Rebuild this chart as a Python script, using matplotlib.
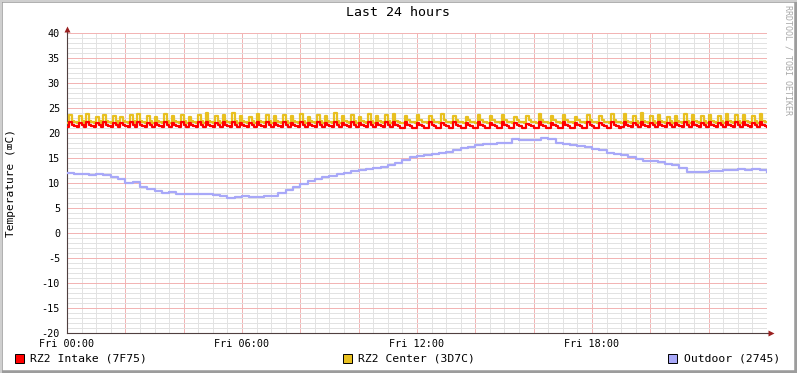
import matplotlib
matplotlib.use('Agg')
import matplotlib.pyplot as plt
from matplotlib.patches import Rectangle
from matplotlib.ticker import MultipleLocator, FuncFormatter
import numpy as np

# RRD readings, one value every 5 minutes from Fri 00:00 to Sat 00:00
intake_temp = [
    21.2, 22.2, 21.7, 21.4, 21.2, 22.1, 21.6,
    21.2, 22.3, 21.7, 21.4, 21.2, 22.0, 21.6,
    21.2, 22.2, 21.7, 21.4, 21.2, 22.1, 21.6,
    21.2, 22.0, 21.7, 21.4, 21.2, 22.2, 21.6,
    21.2, 22.3, 21.7, 21.4, 21.2, 22.1, 21.6,
    21.2, 22.0, 21.7, 21.4, 21.2, 22.3, 21.6,
    21.2, 22.1, 21.7, 21.4, 21.2, 22.2, 21.6,
    21.2, 22.0, 21.7, 21.4, 21.2, 22.2, 21.6,
    21.2, 22.3, 21.7, 21.4, 21.2, 22.1, 21.6,
    21.2, 22.2, 21.7, 21.4, 21.2, 22.3, 21.6,
    21.2, 22.1, 21.7, 21.4, 21.2, 22.0, 21.6,
    21.2, 22.3, 21.7, 21.4, 21.2, 22.2, 21.6,
    21.2, 22.1, 21.7, 21.4, 21.2, 22.2, 21.6,
    21.2, 22.1, 21.7, 21.4, 21.2, 22.3, 21.6,
    21.2, 22.0, 21.7, 21.4, 21.2, 22.2, 21.6,
    21.2, 22.1, 21.7, 21.4, 21.2, 22.3, 21.6,
    21.2, 22.1, 21.7, 21.4, 21.2, 22.2, 21.6,
    21.2, 22.0, 21.7, 21.4, 21.2, 22.3, 21.6,
    21.2, 22.1, 21.7, 21.4, 21.2, 22.2, 21.6,
    21.2, 22.3, 21.7, 21.4, 21.1,
    21.0, 22.2, 21.7, 21.4, 21.1, 21.0, 22.1, 21.7, 21.4, 21.1,
    21.0, 22.3, 21.7, 21.4, 21.1, 21.0, 22.0, 21.7, 21.4, 21.1,
    21.0, 22.2, 21.7, 21.4, 21.1, 21.0, 22.1, 21.7, 21.4, 21.1,
    21.0, 22.3, 21.7, 21.4, 21.1, 21.0, 22.0, 21.7, 21.4, 21.1,
    21.0, 22.2, 21.7, 21.4, 21.1, 21.0, 22.1, 21.7, 21.4, 21.1,
    21.0, 21.9, 21.7, 21.4, 21.1, 21.0, 22.2, 21.7, 21.4, 21.1,
    21.0, 22.1, 21.7, 21.4, 21.1, 21.0, 22.3, 21.7, 21.4, 21.1,
    21.0, 22.0, 21.7, 21.4, 21.1, 21.0, 22.2, 21.7, 21.4, 21.1,
    21.0, 22.1, 21.7, 21.4, 21.1, 21.0, 22.3, 21.7, 21.4, 21.1,
    21.2, 22.3, 21.7, 21.4, 21.2, 22.1, 21.6,
    21.2, 22.3, 21.7, 21.4, 21.2, 22.0, 21.6,
    21.2, 22.2, 21.7, 21.4, 21.2, 22.0, 21.6,
    21.2, 22.1, 21.7, 21.4, 21.2, 22.3, 21.6,
    21.2, 22.2, 21.7, 21.4, 21.2, 22.1, 21.6,
    21.2, 22.2, 21.7, 21.4, 21.2, 22.1, 21.6,
    21.2, 22.3, 21.7, 21.4, 21.2, 22.2, 21.6,
    21.2, 22.2, 21.7, 21.4, 21.2, 22.1, 21.6,
    21.2, 22.3, 21.7, 21.4, 21.3,
]

center_temp = [
    22.1, 23.6, 22.5, 22.2, 22.1, 23.4, 22.4,
    22.1, 23.9, 22.5, 22.2, 22.1, 23.3, 22.4,
    22.1, 23.6, 22.5, 22.2, 22.1, 23.5, 22.4,
    22.1, 23.2, 22.5, 22.2, 22.1, 23.7, 22.4,
    22.1, 23.8, 22.5, 22.2, 22.1, 23.4, 22.4,
    22.1, 23.2, 22.5, 22.2, 22.1, 23.9, 22.4,
    22.1, 23.5, 22.5, 22.2, 22.1, 23.6, 22.4,
    22.1, 23.3, 22.5, 22.2, 22.1, 23.7, 22.4,
    22.1, 24.0, 22.5, 22.2, 22.1, 23.4, 22.4,
    22.1, 23.6, 22.5, 22.2, 22.1, 24.1, 22.4,
    22.1, 23.5, 22.5, 22.2, 22.1, 23.3, 22.4,
    22.1, 23.8, 22.5, 22.2, 22.1, 23.6, 22.4,
    22.1, 23.4, 22.5, 22.2, 22.1, 23.7, 22.4,
    22.1, 23.5, 22.5, 22.2, 22.1, 23.9, 22.4,
    22.1, 23.3, 22.5, 22.2, 22.1, 23.6, 22.4,
    22.1, 23.4, 22.5, 22.2, 22.1, 24.0, 22.4,
    22.1, 23.5, 22.5, 22.2, 22.1, 23.7, 22.4,
    22.1, 23.3, 22.5, 22.2, 22.1, 23.8, 22.4,
    22.1, 23.5, 22.5, 22.2, 22.1, 23.6, 22.4,
    22.1, 23.9, 22.5, 22.2, 22.1,
    22.1, 23.5, 22.6, 22.3, 22.2, 22.1, 23.6, 22.6, 22.3, 22.2,
    22.1, 23.4, 22.6, 22.3, 22.2, 22.1, 23.9, 22.6, 22.3, 22.2,
    22.1, 23.4, 22.6, 22.3, 22.2, 22.1, 23.3, 22.6, 22.3, 22.2,
    22.1, 23.6, 22.6, 22.3, 22.2, 22.1, 23.4, 22.6, 22.3, 22.2,
    22.1, 23.7, 22.6, 22.3, 22.2, 22.1, 23.2, 22.6, 22.3, 22.2,
    22.1, 23.5, 22.6, 22.3, 22.2, 22.1, 23.8, 22.6, 22.3, 22.2,
    22.1, 23.4, 22.6, 22.3, 22.2, 22.1, 23.6, 22.6, 22.3, 22.2,
    22.1, 23.3, 22.6, 22.3, 22.2, 22.1, 23.7, 22.6, 22.3, 22.2,
    22.1, 23.5, 22.6, 22.3, 22.2, 22.1, 23.9, 22.6, 22.3, 22.2,
    22.1, 23.9, 22.5, 22.2, 22.1, 23.5, 22.4,
    22.1, 24.0, 22.5, 22.2, 22.1, 23.4, 22.4,
    22.1, 23.6, 22.5, 22.2, 22.1, 23.3, 22.4,
    22.1, 23.5, 22.5, 22.2, 22.1, 23.8, 22.4,
    22.1, 23.6, 22.5, 22.2, 22.1, 23.4, 22.4,
    22.1, 23.7, 22.5, 22.2, 22.1, 23.5, 22.4,
    22.1, 23.9, 22.5, 22.2, 22.1, 23.6, 22.4,
    22.1, 23.7, 22.5, 22.2, 22.1, 23.5, 22.4,
    22.1, 23.8, 22.5, 22.2, 22.2,
]

# outdoor sensor, one value every 15 minutes
outdoor_temp = [
    12.0, 11.8, 11.8, 11.6, 11.8, 11.7, 11.2, 10.8, 10.0, 10.2, 9.2, 8.8,
    8.4, 8.0, 8.2, 7.9, 7.9, 7.8, 7.9, 7.8, 7.6, 7.4, 7.0, 7.3,
    7.4, 7.3, 7.2, 7.4, 7.5, 8.0, 8.6, 9.2, 9.8, 10.4, 10.9, 11.2,
    11.4, 11.8, 12.0, 12.4, 12.6, 12.8, 13.0, 13.2, 13.6, 14.0, 14.6, 15.2,
    15.4, 15.6, 15.8, 16.0, 16.2, 16.6, 17.0, 17.2, 17.6, 17.8, 17.9, 18.0,
    18.1, 18.8, 18.6, 18.6, 18.7, 19.0, 18.8, 18.0, 17.9, 17.7, 17.5, 17.3,
    16.9, 16.6, 16.1, 15.8, 15.6, 15.2, 14.9, 14.4, 14.4, 14.2, 13.9, 13.6,
    13.0, 12.3, 12.3, 12.3, 12.4, 12.5, 12.6, 12.7, 12.8, 12.7, 12.8, 12.6,
    12.2,
]

legend_labels = ['RZ2 Intake (7F75)', 'RZ2 Center (3D7C)', 'Outdoor (2745)']
line_colors = ['#FF0000', '#E8C020', '#A8A8F8']
x_labels = {0: 'Fri 00:00', 6: 'Fri 06:00', 12: 'Fri 12:00', 18: 'Fri 18:00'}

W, H = 797, 373
mono = ['DejaVu Sans Mono', 'DejaVu Sans']
plt.rcParams['font.family'] = mono

fig = plt.figure(figsize=(W / 100, H / 100), dpi=100)
fig.patch.set_facecolor('white')

def fx(x):
    return x / W

def fy(y):
    return 1 - y / H

ax = fig.add_axes([fx(67), fy(333), 700 / W, 300 / H])

t5 = np.arange(len(intake_temp)) * 5 / 60
t15 = np.arange(len(outdoor_temp)) * 15 / 60

lw = 1.6
ax.plot(t5, center_temp, drawstyle='steps-post', color=line_colors[1], lw=lw, zorder=3)
ax.plot(t5, intake_temp, drawstyle='steps-post', color=line_colors[0], lw=lw, zorder=4)
ax.plot(t15, outdoor_temp, drawstyle='steps-post', color=line_colors[2], lw=lw, zorder=3)

ax.set_xlim(0, 24)
ax.set_ylim(-20, 40)

ax.xaxis.set_major_locator(MultipleLocator(2))
ax.xaxis.set_minor_locator(MultipleLocator(0.5))
ax.yaxis.set_major_locator(MultipleLocator(5))
ax.yaxis.set_minor_locator(MultipleLocator(1))
ax.xaxis.set_major_formatter(FuncFormatter(lambda v, p: x_labels.get(int(round(v)), '') if abs(v - round(v)) < 1e-6 else ''))
ax.yaxis.set_major_formatter(FuncFormatter(lambda v, p: '%d' % v))

ax.set_axisbelow(True)
ax.grid(which='minor', color='#E2E2E2', lw=0.72, ls='-', antialiased=False)
ax.grid(which='major', color='#F2B4B4', lw=0.72, ls='-', antialiased=False)

ax.tick_params(axis='both', which='both', length=0, labelsize=7.3, colors='#000000')
ax.tick_params(axis='x', pad=4)
ax.tick_params(axis='y', pad=5)

for s in ['top', 'right']:
    ax.spines[s].set_visible(False)
for s in ['left', 'bottom']:
    ax.spines[s].set_color('#504040')
    ax.spines[s].set_linewidth(0.8)

# axis arrows like rrdtool draws them
ax.plot([0, 0], [1, 1.012], color='#504040', lw=0.8, transform=ax.transAxes, clip_on=False)
ax.plot([1, 1.005], [0, 0], color='#504040', lw=0.8, transform=ax.transAxes, clip_on=False)
ax.plot([0], [1.012], marker='^', ms=4.5, color='#9A2020', mec='none', transform=ax.transAxes, clip_on=False)
ax.plot([1.006], [0], marker='>', ms=4.5, color='#9A2020', mec='none', transform=ax.transAxes, clip_on=False)

ax.set_facecolor('white')

fig.text(fx(398), fy(13), 'Last 24 hours', ha='center', va='center', fontsize=9.5)
fig.text(fx(11), fy(183), 'Temperature (\u2327C)', ha='center', va='center', rotation=90, fontsize=8)
fig.text(fx(788), fy(60), 'RRDTOOL / TOBI OETIKER', ha='center', va='center', rotation=270,
         fontsize=6, color='#A8A8A8')

# legend row
box_x = [15, 343, 668]
text_x = [30, 358, 684]
for bx, tx, lab, col in zip(box_x, text_x, legend_labels, line_colors):
    fig.patches.append(Rectangle((fx(bx), fy(363)), 9 / W, 9 / H, transform=fig.transFigure,
                                 facecolor=col, edgecolor='black', lw=0.7, figure=fig))
    fig.text(fx(tx), fy(358.5), lab, ha='left', va='center', fontsize=8.2)

# 3d frame around image
fig.patches.append(Rectangle((0, 0), 1, 1, transform=fig.transFigure, fill=False,
                             edgecolor='#9C9C9C', lw=4, figure=fig))
fig.patches.append(Rectangle((0, fy(2)), 1, 2 / H, transform=fig.transFigure,
                             facecolor='#CFCFCF', edgecolor='none', figure=fig))
fig.patches.append(Rectangle((0, 0), 2 / W, 1, transform=fig.transFigure,
                             facecolor='#CFCFCF', edgecolor='none', figure=fig))

fig.savefig('out.png', dpi=100, facecolor='white')
